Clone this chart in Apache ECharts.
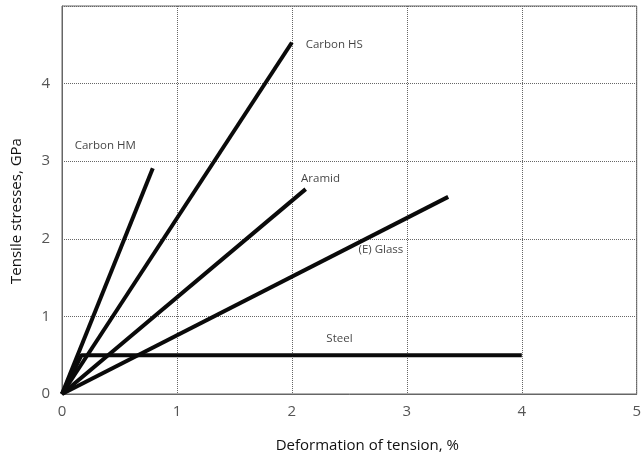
<!DOCTYPE html>
<html>
<head>
<meta charset="utf-8">
<script src="https://cdn.jsdelivr.net/npm/echarts@6/dist/echarts.min.js"></script>
<style>
  html, body { margin: 0; padding: 0; background: #fff; }
  #chart { width: 644px; height: 458px; }
</style>
</head>
<body>
<div id="chart"></div>
<script>
// strain (%) / stress (GPa) pairs
var carbonHM = [[0, 0], [0.79, 2.91]]
var carbonHS = [[0, 0], [2.0, 4.53]]
var aramid = [[0, 0], [2.12, 2.64]]
var glass = [[0, 0], [3.36, 2.54]]
var steel = [[0, 0], [0.17, 0.5], [4.0, 0.5]]

// text labels next to the lines
var labelNames = ['Carbon HM', 'Carbon HS', 'Aramid', '(E) Glass', 'Steel']
var labelPos = [[0.11, 3.2], [2.12, 4.5], [2.08, 2.78], [2.58, 1.86], [2.3, 0.71]]

var xTicks = [0, 1, 2, 3, 4, 5]
var yTicks = [0, 1, 2, 3, 4]

var font = 'Open Sans'

function lineSeries (name, data) {
  return {
    name: name,
    type: 'line',
    data: data,
    symbol: 'none',
    silent: true,
    lineStyle: { color: '#0a0a0a', width: 4 }
  }
}

var myChart = echarts.init(document.getElementById('chart'))
var option = {
  backgroundColor: '#fff',
  animation: false,
  grid: {
    left: 62,
    right: 4,
    top: 6,
    bottom: 63,
    show: true,
    borderColor: '#666',
    borderWidth: 1
  },
  xAxis: {
    type: 'value',
    min: 0,
    max: 5,
    interval: 1,
    name: 'Deformation of tension, %',
    nameLocation: 'middle',
    nameGap: 44,
    nameTextStyle: { fontFamily: font, fontSize: 15, color: '#111', padding: [0, 0, 0, 36] },
    axisLine: { lineStyle: { color: '#666' } },
    axisTick: { show: false },
    axisLabel: {
      fontFamily: font, fontSize: 15, color: '#555', margin: 10,
      formatter: function (v) { return xTicks.indexOf(v) >= 0 ? String(v) : '' }
    },
    splitLine: { show: true, lineStyle: { color: '#666', width: 1, type: 'dotted' } }
  },
  yAxis: {
    type: 'value',
    min: 0,
    max: 5,
    interval: 1,
    name: 'Tensile stresses, GPa',
    nameLocation: 'middle',
    nameGap: 38,
    nameTextStyle: { fontFamily: font, fontSize: 15, color: '#111', padding: [0, 22, 0, 0] },
    axisLine: { show: true, lineStyle: { color: '#666' } },
    axisTick: { show: false },
    axisLabel: {
      fontFamily: font, fontSize: 15, color: '#555', margin: 12,
      formatter: function (v) { return yTicks.indexOf(v) >= 0 ? String(v) : '' }
    },
    splitLine: { show: true, lineStyle: { color: '#666', width: 1, type: 'dotted' } }
  },
  series: [
    lineSeries('Carbon HM', carbonHM),
    lineSeries('Carbon HS', carbonHS),
    lineSeries('Aramid', aramid),
    lineSeries('(E) Glass', glass),
    lineSeries('Steel', steel),
    {
      type: 'scatter',
      symbolSize: 0,
      silent: true,
      data: labelPos.map(function (p, i) { return { value: p, name: labelNames[i] } }),
      label: {
        show: true,
        position: 'right',
        distance: 0,
        formatter: function (p) { return p.name },
        fontFamily: font,
        fontSize: 11.5,
        color: '#111'
      }
    }
  ]
}
myChart.setOption(option)
</script>
</body>
</html>
